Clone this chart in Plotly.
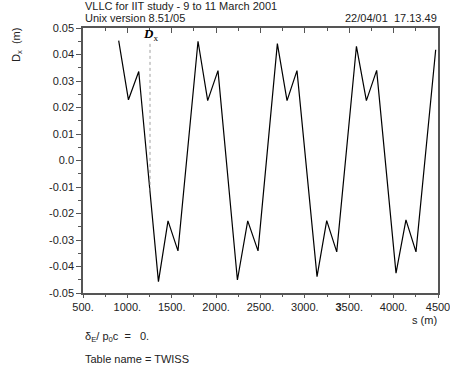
import numpy as np
import plotly.graph_objects as go

s_vals = [902, 1012, 1128, 1350, 1458, 1570, 1796, 1905, 2021, 2240, 2356, 2472,
          2690, 2799, 2911, 3137, 3246, 3359, 3581, 3693, 3809, 4027, 4139, 4252, 4474]
dx_vals = [0.0452, 0.0229, 0.0336, -0.0457, -0.0228, -0.0341, 0.0450, 0.0226, 0.0339,
           -0.0451, -0.0228, -0.0341, 0.0441, 0.0226, 0.0339, -0.0438, -0.0227, -0.0345,
           0.0431, 0.0226, 0.0340, -0.0425, -0.0224, -0.0345, 0.0418]

x_tickvals = [500, 1000, 1500, 2000, 2500, 3000, 3500, 4000, 4500]
x_ticktext = ["500.", "1000.", "1500.", "2000.", "2500.", "3000.", "<b>3</b>500.", "4000.", "4500"]
y_tickvals = [0.05, 0.04, 0.03, 0.02, 0.01, 0.0, -0.01, -0.02, -0.03, -0.04, -0.05]
y_ticktext = ["0.05", "0.04", "0.03", "0.02", "0.01", "0.0", "-0.01", "-0.02", "-0.03", "-0.04", "-0.05"]

marker_s = 1255
marker_top = 0.044

FONT = "Liberation Sans, Arial, sans-serif"
AX = "#555555"
W, H = 450, 369
ML, MR, MT, MB = 83, 12, 28, 76

fig = go.Figure()
fig.add_trace(go.Scatter(x=s_vals, y=dx_vals, mode="lines",
                         line=dict(color="black", width=1.2), showlegend=False,
                         hoverinfo="skip"))
fig.add_trace(go.Scatter(x=[500, 4500], y=[0, 0], xaxis="x2", mode="lines",
                         line=dict(width=0), showlegend=False, hoverinfo="skip"))

marker_bottom = float(np.interp(marker_s, s_vals, dx_vals))
fig.add_shape(type="line", x0=marker_s, x1=marker_s, y0=marker_top, y1=marker_bottom,
              xref="x", yref="y", line=dict(color="#888888", width=0.8, dash="dot"))

fig.update_layout(
    width=W, height=H,
    margin=dict(l=ML, r=MR, t=MT, b=MB, autoexpand=False),
    paper_bgcolor="white", plot_bgcolor="white",
    font=dict(family=FONT, size=11, color="#222222"),
    xaxis=dict(range=[500, 4500], tickvals=x_tickvals, ticktext=x_ticktext, automargin=False,
               ticklabeloverflow="allow",
               showgrid=False, zeroline=False, showline=True, linecolor=AX, linewidth=1.5,
               mirror=True, ticks="outside", ticklen=3, tickcolor=AX, tickwidth=1,
               minor=dict(dtick=250, ticks="outside", ticklen=2, tickcolor=AX),
               tickfont=dict(size=11, family=FONT, color="#222222")),
    xaxis2=dict(range=[500, 4500], overlaying="x", side="top", showgrid=False, automargin=False,
                zeroline=False, showline=False, ticks="inside", ticklen=5, tickcolor=AX,
                tickvals=x_tickvals, showticklabels=False,
                minor=dict(dtick=250, ticks="inside", ticklen=3, tickcolor=AX)),
    yaxis=dict(range=[-0.05, 0.05], tickvals=y_tickvals, ticktext=y_ticktext, automargin=False,
               ticklabeloverflow="allow",
               showgrid=False, zeroline=False, showline=True, linecolor=AX, linewidth=1.5,
               mirror=True, ticks="outside", ticklen=5, tickcolor=AX, tickwidth=1,
               minor=dict(dtick=0.005, ticks="outside", ticklen=3, tickcolor=AX),
               tickfont=dict(size=11, family=FONT, color="#222222")),
)


def px_to_paper(px, py):
    return (px - ML) / (W - ML - MR), (H - MB - py) / (H - MT - MB)


ann = [
    ("VLLC for IIT study - 9 to 11 March 2001", 83, 6, "left"),
    ("Unix version 8.51/05", 83, 18, "left"),
    ("22/04/01  17.13.49", 439, 18, "right"),
    ("s (m)", 439, 320, "right"),
    ("δ<sub>E</sub>/ p<sub>0</sub>c  =   0.", 83, 337, "left"),
    ("Table name = TWISS", 83, 359, "left"),
]
for text, px, py, xa in ann:
    x, y = px_to_paper(px, py)
    fig.add_annotation(text=text, x=x, y=y, xref="paper", yref="paper",
                       xanchor=xa, yanchor="middle", showarrow=False,
                       font=dict(size=11, family=FONT, color="#222222"))

ax_x, ax_y = px_to_paper(17, 45)
fig.add_annotation(text="D<sub>x</sub>  (m)", x=ax_x, y=ax_y, xref="paper", yref="paper",
                   textangle=-90, showarrow=False, xanchor="center", yanchor="middle",
                   font=dict(size=11, family=FONT, color="#222222"))

fig.add_annotation(text="<b><i>D</i></b><sub>x</sub>", x=marker_s, y=0.0475, xref="x", yref="y",
                   showarrow=False, xanchor="center", yanchor="middle",
                   font=dict(size=13, family="Liberation Serif, Times New Roman, serif", color="black"))

fig.write_html("out.html")
